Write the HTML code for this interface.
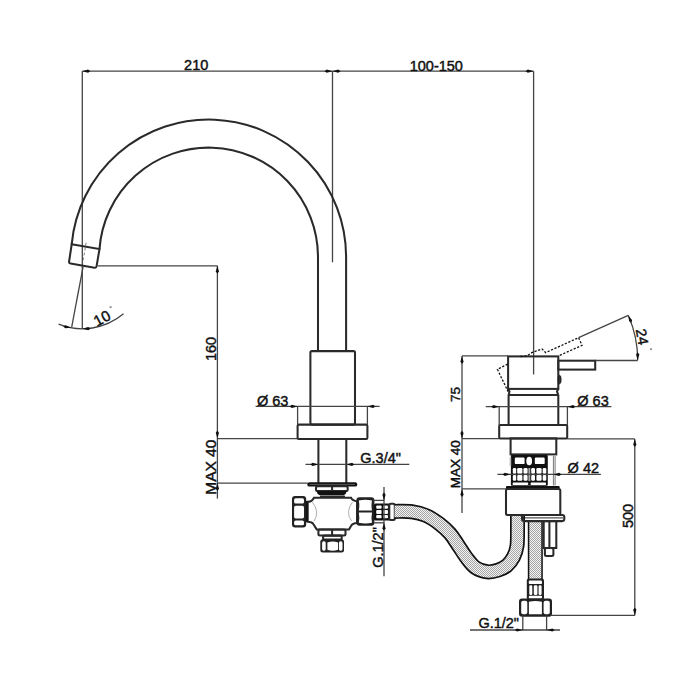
<!DOCTYPE html>
<html><head><meta charset="utf-8"><style>
html,body{margin:0;padding:0;background:#fff;width:700px;height:700px;overflow:hidden}
svg{display:block}
text{font-family:"Liberation Sans",sans-serif;stroke:#111;stroke-width:0.45px}
</style></head><body>
<svg width="700" height="700" viewBox="0 0 700 700">
<defs>
<pattern id="hatch" width="2" height="2" patternUnits="userSpaceOnUse">
<rect width="2" height="2" fill="#f4f4f4"/>
<rect width="1" height="1" fill="#a4a4a4"/>
<rect x="1" y="1" width="1" height="1" fill="#a4a4a4"/>
</pattern>
</defs>
<rect width="700" height="700" fill="#fff"/>
<line x1="82.3" y1="71.2" x2="533.6" y2="71.2" stroke="#444" stroke-width="1.3" fill="none"/>
<line x1="82.3" y1="71.2" x2="82.3" y2="329" stroke="#444" stroke-width="1.3" fill="none"/>
<line x1="332.5" y1="71.2" x2="332.5" y2="262.3" stroke="#444" stroke-width="1.3" fill="none"/>
<line x1="533.6" y1="71.2" x2="533.6" y2="374.5" stroke="#444" stroke-width="1.3" fill="none"/>
<polygon points="82.30,71.20 88.06,69.60 90.30,71.20 88.06,72.80" fill="#111"/>
<polygon points="332.50,71.20 326.74,72.80 324.50,71.20 326.74,69.60" fill="#111"/>
<polygon points="332.50,71.20 338.26,69.60 340.50,71.20 338.26,72.80" fill="#111"/>
<polygon points="533.60,71.20 527.84,72.80 525.60,71.20 527.84,69.60" fill="#111"/>
<text x="196.2" y="69.5" font-size="14.5" text-anchor="middle" fill="#111" >210</text>
<text x="436.3" y="70.6" font-size="14.5" text-anchor="middle" fill="#111" >100-150</text>
<path d="M 346.1 351.5 L 346.1 257 A 137.5 137.5 0 0 0 71.688 244.3" stroke="#2a2a2a" stroke-width="2.05" fill="none"/>
<path d="M 318.0 351.5 L 318.0 257 A 109.4 109.4 0 0 0 99.486 249.1" stroke="#2a2a2a" stroke-width="2.05" fill="none"/>
<path d="M 71.688 244.3 L 99.486 249.1 L 96.6 266.2 Q 96.3 268 94.5 267.7 L 70.6 263.6 Q 68.8 263.3 69.1 261.5 Z" stroke="#2a2a2a" stroke-width="2.05" fill="none"/>
<path d="M 86.1 242.7 L 82.7 263.3" stroke="#666" stroke-width="0.8" stroke-dasharray="3 2" fill="none"/>
<line x1="83.1" y1="266.7" x2="71.7" y2="327.1" stroke="#444" stroke-width="1.3" fill="none"/>
<path d="M 58.60 324.15 A 63.8 63.8 0 0 0 123.51 313.87" stroke="#444" stroke-width="1.3" fill="none"/>
<polygon points="71.09,327.77 65.14,328.32 63.22,326.34 65.71,325.17" fill="#111"/>
<polygon points="82.50,328.80 88.23,327.09 90.50,328.64 88.29,330.28" fill="#111"/>
<text x="104.4" y="322.8" font-size="15" text-anchor="middle" fill="#111" transform="rotate(-28 104.4 322.8)" >10</text>
<circle cx="110.6" cy="307.1" r="1.2" fill="#999"/>
<line x1="97.9" y1="265.8" x2="217.4" y2="265.8" stroke="#444" stroke-width="1.3" fill="none"/>
<line x1="217.4" y1="265.8" x2="217.4" y2="498.6" stroke="#444" stroke-width="1.3" fill="none"/>
<polygon points="217.40,265.80 219.00,271.56 217.40,273.80 215.80,271.56" fill="#111"/>
<polygon points="217.40,438.60 215.80,432.84 217.40,430.60 219.00,432.84" fill="#111"/>
<polygon points="217.40,483.10 219.00,488.86 217.40,491.10 215.80,488.86" fill="#111"/>
<line x1="217.4" y1="438.6" x2="297.6" y2="438.6" stroke="#444" stroke-width="1.3" fill="none"/>
<line x1="217.4" y1="483.1" x2="307.7" y2="483.1" stroke="#444" stroke-width="1.3" fill="none"/>
<text x="216" y="349" font-size="14.5" text-anchor="middle" fill="#111" transform="rotate(-90 216 349)" >160</text>
<text x="216" y="467.2" font-size="15.5" text-anchor="middle" fill="#111" transform="rotate(-90 216 467.2)" >MAX 40</text>
<rect x="310.4" y="351.1" width="44.60" height="73.50" rx="1.5" stroke="#2a2a2a" stroke-width="2.05" fill="none"/>
<rect x="297.6" y="424.6" width="69.80" height="14.40" rx="1.2" stroke="#2a2a2a" stroke-width="2.05" fill="none"/>
<line x1="318.4" y1="439" x2="318.4" y2="483" stroke="#2a2a2a" stroke-width="2.05" fill="none"/>
<line x1="346.3" y1="439" x2="346.3" y2="483" stroke="#2a2a2a" stroke-width="2.05" fill="none"/>
<line x1="255.6" y1="406.4" x2="379.6" y2="406.4" stroke="#444" stroke-width="1.3" fill="none"/>
<line x1="297.6" y1="406.4" x2="297.6" y2="424.6" stroke="#444" stroke-width="1.3" fill="none"/>
<line x1="367.4" y1="406.4" x2="367.4" y2="424.6" stroke="#444" stroke-width="1.3" fill="none"/>
<polygon points="297.60,406.40 291.84,408.00 289.60,406.40 291.84,404.80" fill="#111"/>
<polygon points="367.40,406.40 373.16,404.80 375.40,406.40 373.16,408.00" fill="#111"/>
<text x="257" y="405.6" font-size="14.5" text-anchor="start" fill="#111" >Ø 63</text>
<line x1="305.5" y1="464.4" x2="409.3" y2="464.4" stroke="#444" stroke-width="1.3" fill="none"/>
<polygon points="318.40,464.40 312.64,466.00 310.40,464.40 312.64,462.80" fill="#111"/>
<polygon points="346.30,464.40 352.06,462.80 354.30,464.40 352.06,466.00" fill="#111"/>
<text x="360.3" y="462.8" font-size="14.5" text-anchor="start" fill="#111" >G.3/4"</text>
<rect x="307.3" y="482.2" width="50" height="4.4" rx="2.2" fill="#111"/>
<line x1="309.5" y1="484.4" x2="355" y2="484.4" stroke="#888" stroke-width="0.6" fill="none"/>
<rect x="316" y="486.3" width="31.70" height="4.70" rx="1.5" stroke="#2a2a2a" stroke-width="2.05" fill="none"/>
<line x1="332.1" y1="486.3" x2="332.1" y2="491" stroke="#2a2a2a" stroke-width="2.05" fill="none"/>
<path d="M 316.5 491 L 346.8 491 Q 346.5 494 343.5 495.2 L 319.8 495.2 Q 316.8 494 316.5 491 Z" fill="#111"/>
<line x1="320" y1="496.6" x2="345" y2="496.6" stroke="#2a2a2a" stroke-width="2.05" fill="none"/>
<path d="M 314 497.7 L 351 497.7 Q 352.5 501 357.1 501.3 L 357.1 523 Q 352.5 523.2 351 526 L 349 529.4 L 316.7 529.4 L 313.3 524 Q 312 521.7 307.7 521.7 L 307.7 501.8 Q 312 501.8 314 497.7 Z" stroke="#2a2a2a" stroke-width="2.05" fill="none"/>
<path d="M 312.4 502 Q 320 512 314.1 521" stroke="#999" stroke-width="0.8" fill="none"/>
<path d="M 352.5 502 Q 345 512 351.5 521" stroke="#999" stroke-width="0.8" fill="none"/>
<rect x="305.4" y="501" width="2.4" height="21" fill="#111"/>
<rect x="292" y="496" width="14.2" height="31.4" rx="3" fill="#222"/>
<rect x="294.1" y="498.2" width="9.9" height="5.4" rx="1.6" fill="#fff"/>
<rect x="294.1" y="505.8" width="9.9" height="12.6" rx="1.6" fill="#fff"/>
<rect x="294.1" y="520.6" width="9.9" height="4.7" rx="1.6" fill="#fff"/>
<rect x="356.4" y="497.2" width="18" height="28.6" rx="3" fill="#222"/>
<path d="M 358.8 500.6 Q 365.4 499 372 500.6 Q 371 505.5 372 510.4 L 358.8 510.4 Q 359.8 505.5 358.8 500.6 Z" fill="#fff"/>
<path d="M 358.8 512.6 L 372 512.6 Q 371 517.8 372 522.8 Q 365.4 524.2 358.8 522.8 Q 359.8 517.8 358.8 512.6 Z" fill="#fff"/>
<rect x="374" y="503.4" width="16" height="17" rx="1.5" fill="#111"/>
<rect x="376.2" y="505.4" width="5.40" height="3.40" rx="1" fill="#fff"/>
<rect x="376.2" y="509.9" width="5.40" height="4.00" rx="1" fill="#fff"/>
<rect x="376.2" y="515" width="5.40" height="3.30" rx="1" fill="#fff"/>
<rect x="383.2" y="505.4" width="4.80" height="3.40" rx="1" fill="#fff"/>
<rect x="383.2" y="509.9" width="4.80" height="4.00" rx="1" fill="#fff"/>
<rect x="383.2" y="515" width="4.80" height="3.30" rx="1" fill="#fff"/>
<rect x="389.3" y="503.7" width="5.50" height="16.30" rx="1.5" stroke="#2a2a2a" stroke-width="2.05" fill="none"/>
<rect x="318.4" y="529.4" width="27.10" height="6.00" rx="1.5" stroke="#2a2a2a" stroke-width="2.05" fill="none"/>
<line x1="332.1" y1="529.4" x2="332.1" y2="535.4" stroke="#2a2a2a" stroke-width="2.05" fill="none"/>
<rect x="323.1" y="535.6" width="18.60" height="4.00" rx="0.8" stroke="#2a2a2a" stroke-width="2.05" fill="none"/>
<rect x="320.3" y="539.3" width="23.7" height="13.1" rx="2.5" fill="#222"/>
<rect x="322.1" y="541.3" width="3.6" height="9.4" rx="1.6" fill="#fff"/>
<rect x="338.9" y="541.3" width="3.6" height="9.4" rx="1.6" fill="#fff"/>
<path d="M 327.4 542.6 Q 332.8 540.4 338 542.6 L 338 549.8 Q 332.8 551.6 327.4 549.8 Z" fill="#fff"/>
<line x1="384" y1="487" x2="384" y2="576.3" stroke="#444" stroke-width="1.3" fill="none"/>
<line x1="373.4" y1="500.4" x2="384" y2="500.4" stroke="#444" stroke-width="1.3" fill="none"/>
<line x1="373.4" y1="522.8" x2="384" y2="522.8" stroke="#444" stroke-width="1.3" fill="none"/>
<polygon points="384.00,500.40 382.40,494.64 384.00,492.40 385.60,494.64" fill="#111"/>
<polygon points="384.00,522.80 385.60,528.56 384.00,530.80 382.40,528.56" fill="#111"/>
<text x="382.6" y="547.5" font-size="14.5" text-anchor="middle" fill="#111" transform="rotate(-90 382.6 547.5)" >G.1/2"</text>
<path d="M 394.5 511.4 C 397.42 511.45 406.75 511.02 412 511.7 C 417.25 512.38 421.50 513.53 426 515.5 C 430.50 517.47 435.00 520.50 439 523.5 C 443.00 526.50 446.83 529.92 450 533.5 C 453.17 537.08 455.33 541.08 458 545 C 460.67 548.92 463.17 553.28 466 557 C 468.83 560.72 471.50 564.83 475 567.3 C 478.50 569.77 483.17 571.32 487 571.8 C 490.83 572.28 494.67 571.25 498 570.2 C 501.33 569.15 504.42 567.70 507 565.5 C 509.58 563.30 511.83 560.25 513.5 557 C 515.17 553.75 516.33 550.50 517 546 C 517.67 541.50 517.42 535.17 517.5 530 C 517.58 524.83 517.50 517.50 517.5 515" stroke="#111" stroke-width="15" fill="none"/>
<path d="M 394.5 511.4 C 397.42 511.45 406.75 511.02 412 511.7 C 417.25 512.38 421.50 513.53 426 515.5 C 430.50 517.47 435.00 520.50 439 523.5 C 443.00 526.50 446.83 529.92 450 533.5 C 453.17 537.08 455.33 541.08 458 545 C 460.67 548.92 463.17 553.28 466 557 C 468.83 560.72 471.50 564.83 475 567.3 C 478.50 569.77 483.17 571.32 487 571.8 C 490.83 572.28 494.67 571.25 498 570.2 C 501.33 569.15 504.42 567.70 507 565.5 C 509.58 563.30 511.83 560.25 513.5 557 C 515.17 553.75 516.33 550.50 517 546 C 517.67 541.50 517.42 535.17 517.5 530 C 517.58 524.83 517.50 517.50 517.5 515" stroke="url(#hatch)" stroke-width="11.6" fill="none"/>
<path d="M 535.3 521 L 535.3 579.6" stroke="#111" stroke-width="15" fill="none"/>
<path d="M 535.3 521 L 535.3 579.6" stroke="url(#hatch)" stroke-width="12" fill="none"/>
<rect x="508.1" y="356.4" width="50.20" height="32.50" rx="0" stroke="#2a2a2a" stroke-width="2.05" fill="none"/>
<line x1="508.1" y1="394.9" x2="558.3" y2="394.9" stroke="#2a2a2a" stroke-width="2.05" fill="none"/>
<path d="M 508.1 388.9 L 509.5 391.5 L 508.6 394.9" stroke="#2a2a2a" stroke-width="2.05" fill="none"/>
<path d="M 558.3 388.9 L 557 391.5 L 558.3 394.9" stroke="#2a2a2a" stroke-width="2.05" fill="none"/>
<line x1="508.6" y1="394.9" x2="508.6" y2="425" stroke="#2a2a2a" stroke-width="2.05" fill="none"/>
<line x1="558.3" y1="394.9" x2="558.3" y2="425" stroke="#2a2a2a" stroke-width="2.05" fill="none"/>
<rect x="499.2" y="425" width="68.00" height="13.40" rx="1" stroke="#2a2a2a" stroke-width="2.05" fill="none"/>
<rect x="510.6" y="438.4" width="45.70" height="16.00" rx="0" stroke="#2a2a2a" stroke-width="2.05" fill="none"/>
<rect x="510.9" y="455" width="36.9" height="30.8" rx="1" fill="#111"/>
<rect x="514.8" y="457.5" width="9.8" height="6.6" rx="1.2" fill="#fff"/>
<rect x="534.8" y="457.5" width="9.9" height="6.6" rx="1.2" fill="#fff"/>
<ellipse cx="529.2" cy="461" rx="2.9" ry="4.3" fill="#fff"/>
<rect x="512.8" y="468" width="3.40" height="5.80" rx="1.2" fill="#fff"/>
<rect x="512.8" y="474.9" width="3.40" height="5.80" rx="1.2" fill="#fff"/>
<rect x="517.2" y="468" width="5.20" height="5.80" rx="1.2" fill="#fff"/>
<rect x="517.2" y="474.9" width="5.20" height="5.80" rx="1.2" fill="#fff"/>
<rect x="523.5" y="468" width="4.10" height="5.80" rx="1.2" fill="#fff"/>
<rect x="523.5" y="474.9" width="4.10" height="5.80" rx="1.2" fill="#fff"/>
<rect x="531.2" y="468" width="3.80" height="5.80" rx="1.2" fill="#fff"/>
<rect x="531.2" y="474.9" width="3.80" height="5.80" rx="1.2" fill="#fff"/>
<rect x="536.4" y="468" width="5.20" height="5.80" rx="1.2" fill="#fff"/>
<rect x="536.4" y="474.9" width="5.20" height="5.80" rx="1.2" fill="#fff"/>
<rect x="542.7" y="468" width="3.60" height="5.80" rx="1.2" fill="#fff"/>
<rect x="542.7" y="474.9" width="3.60" height="5.80" rx="1.2" fill="#fff"/>
<rect x="528.4" y="468" width="1.9" height="13" fill="#aaa"/>
<rect x="512.6" y="482.6" width="15.6" height="2.4" rx="0.8" fill="#fff"/>
<rect x="530.6" y="482.6" width="15.4" height="2.4" rx="0.8" fill="#fff"/>
<rect x="509.6" y="457" width="1.6" height="9" fill="#bbb"/>
<line x1="553.4" y1="456" x2="553.4" y2="485.5" stroke="#666" stroke-width="0.9" fill="none"/>
<line x1="555.1" y1="456" x2="555.1" y2="485.5" stroke="#666" stroke-width="0.9" fill="none"/>
<rect x="506" y="485.9" width="53.7" height="3.4" rx="1" fill="#111"/>
<rect x="506" y="489" width="54.30" height="25.90" rx="1.5" stroke="#2a2a2a" stroke-width="2.05" fill="none"/>
<rect x="522" y="514.9" width="42.30" height="6.20" rx="2" stroke="#2a2a2a" stroke-width="2.05" fill="none"/>
<line x1="522" y1="517.9" x2="563" y2="517.9" stroke="#111" stroke-width="0.9" fill="none"/>
<rect x="543.7" y="521.1" width="12.60" height="26.90" rx="0" stroke="#2a2a2a" stroke-width="2.05" fill="none"/>
<line x1="549.4" y1="521.1" x2="549.4" y2="548" stroke="#2a2a2a" stroke-width="2.05" fill="none"/>
<rect x="544.9" y="548" width="8.50" height="8.00" rx="1.5" stroke="#2a2a2a" stroke-width="2.05" fill="none"/>
<rect x="526.8" y="578.6" width="17.2" height="21.4" rx="2" fill="#222"/>
<rect x="528.8" y="580.5" width="13.2" height="3.6" rx="1.2" fill="#fff"/>
<rect x="529.3" y="585.3" width="3.00" height="9.8" rx="1.3" fill="#fff"/>
<rect x="533.8" y="585.3" width="3.60" height="9.8" rx="1.3" fill="#fff"/>
<rect x="538.6" y="585.3" width="3.00" height="9.8" rx="1.3" fill="#fff"/>
<rect x="528.8" y="595.8" width="13.2" height="2.6" rx="1" fill="#fff"/>
<rect x="519" y="598.6" width="33" height="18.2" rx="3" fill="#222"/>
<rect x="521.2" y="600.8" width="6.1" height="13.4" rx="2" fill="#fff"/>
<path d="M 528.9 601.8 Q 535.4 600.2 541.9 601.8 L 541.9 614.2 L 528.9 614.2 Z" fill="#fff"/>
<rect x="543.6" y="600.8" width="6.2" height="13.4" rx="2" fill="#fff"/>
<rect x="558.3" y="360.7" width="36.90" height="8.90" rx="0" stroke="#2a2a2a" stroke-width="2.05" fill="none"/>
<line x1="595.2" y1="360.5" x2="637.7" y2="360.5" stroke="#444" stroke-width="1.3" fill="none"/>
<ellipse cx="559.6" cy="379.6" rx="1.5" ry="4.3" fill="#333" stroke="#111" stroke-width="0.8"/>
<path d="M 507.6 364.2 L 497.4 369.4 L 508.1 391.6" stroke="#111" stroke-width="1.3" stroke-dasharray="2.2 1.6" fill="none"/>
<path d="M 520.6 356.5 L 527.1 355.9 L 531.8 352.6 L 542 348.9 L 545.7 352.6 L 578.6 337.7 L 582 345.4 L 558.9 355.7" stroke="#111" stroke-width="1.3" stroke-dasharray="2.2 1.6" fill="none"/>
<line x1="578.6" y1="337.7" x2="628.3" y2="315.4" stroke="#444" stroke-width="1.3" fill="none"/>
<path d="M 628.3 315.4 A 110.3 110.3 0 0 1 637.7 360.3" stroke="#444" stroke-width="1.3" fill="none"/>
<polygon points="628.30,315.40 632.06,320.04 631.49,322.74 629.13,321.32" fill="#111"/>
<polygon points="637.70,360.30 636.10,354.54 637.70,352.30 639.30,354.54" fill="#111"/>
<text x="637.2" y="337.8" font-size="14.5" text-anchor="middle" fill="#111" transform="rotate(80 637.2 337.8)" >24</text>
<circle cx="651" cy="349.1" r="1.2" fill="#999"/>
<line x1="462" y1="355.9" x2="462" y2="513" stroke="#444" stroke-width="1.3" fill="none"/>
<line x1="462" y1="355.9" x2="508.1" y2="355.9" stroke="#444" stroke-width="1.3" fill="none"/>
<polygon points="462.00,355.90 463.60,361.66 462.00,363.90 460.40,361.66" fill="#111"/>
<polygon points="462.00,438.70 460.40,432.94 462.00,430.70 463.60,432.94" fill="#111"/>
<polygon points="462.00,489.00 463.60,494.76 462.00,497.00 460.40,494.76" fill="#111"/>
<line x1="462" y1="438.7" x2="499.2" y2="438.7" stroke="#444" stroke-width="1.3" fill="none"/>
<line x1="462" y1="488.8" x2="506" y2="488.8" stroke="#444" stroke-width="1.3" fill="none"/>
<text x="459.8" y="394.5" font-size="13.5" text-anchor="middle" fill="#111" transform="rotate(-90 459.8 394.5)" >75</text>
<text x="459.8" y="464.3" font-size="13.5" text-anchor="middle" fill="#111" transform="rotate(-90 459.8 464.3)" >MAX 40</text>
<line x1="485.7" y1="406.7" x2="611.4" y2="406.7" stroke="#444" stroke-width="1.3" fill="none"/>
<line x1="499.2" y1="406.7" x2="499.2" y2="425" stroke="#444" stroke-width="1.3" fill="none"/>
<line x1="567.4" y1="406.7" x2="567.4" y2="425" stroke="#444" stroke-width="1.3" fill="none"/>
<polygon points="499.20,406.70 493.44,408.30 491.20,406.70 493.44,405.10" fill="#111"/>
<polygon points="567.40,406.70 573.16,405.10 575.40,406.70 573.16,408.30" fill="#111"/>
<text x="577.3" y="405.7" font-size="14.5" text-anchor="start" fill="#111" >Ø 63</text>
<line x1="497.4" y1="474.4" x2="600.9" y2="474.4" stroke="#444" stroke-width="1.3" fill="none"/>
<polygon points="510.60,474.40 504.84,476.00 502.60,474.40 504.84,472.80" fill="#111"/>
<polygon points="553.40,474.40 559.16,472.80 561.40,474.40 559.16,476.00" fill="#111"/>
<text x="567.6" y="472.8" font-size="14.5" text-anchor="start" fill="#111" >Ø 42</text>
<line x1="634.8" y1="438.9" x2="634.8" y2="615.4" stroke="#444" stroke-width="1.3" fill="none"/>
<line x1="567.2" y1="438.9" x2="634.8" y2="438.9" stroke="#444" stroke-width="1.3" fill="none"/>
<line x1="550.4" y1="615.4" x2="634.8" y2="615.4" stroke="#444" stroke-width="1.3" fill="none"/>
<polygon points="634.80,438.90 636.40,444.66 634.80,446.90 633.20,444.66" fill="#111"/>
<polygon points="634.80,615.40 633.20,609.64 634.80,607.40 636.40,609.64" fill="#111"/>
<text x="632.8" y="515.9" font-size="14.5" text-anchor="middle" fill="#111" transform="rotate(-90 632.8 515.9)" >500</text>
<line x1="470" y1="630" x2="560" y2="630" stroke="#444" stroke-width="1.3" fill="none"/>
<line x1="522.8" y1="615.6" x2="522.8" y2="630.3" stroke="#444" stroke-width="1.3" fill="none"/>
<line x1="546.6" y1="615.6" x2="546.6" y2="630.3" stroke="#444" stroke-width="1.3" fill="none"/>
<polygon points="522.80,630.00 517.04,631.60 514.80,630.00 517.04,628.40" fill="#111"/>
<polygon points="546.60,630.00 552.36,628.40 554.60,630.00 552.36,631.60" fill="#111"/>
<text x="519" y="627.8" font-size="14.5" text-anchor="end" fill="#111" >G.1/2"</text>
</svg>
</body></html>
